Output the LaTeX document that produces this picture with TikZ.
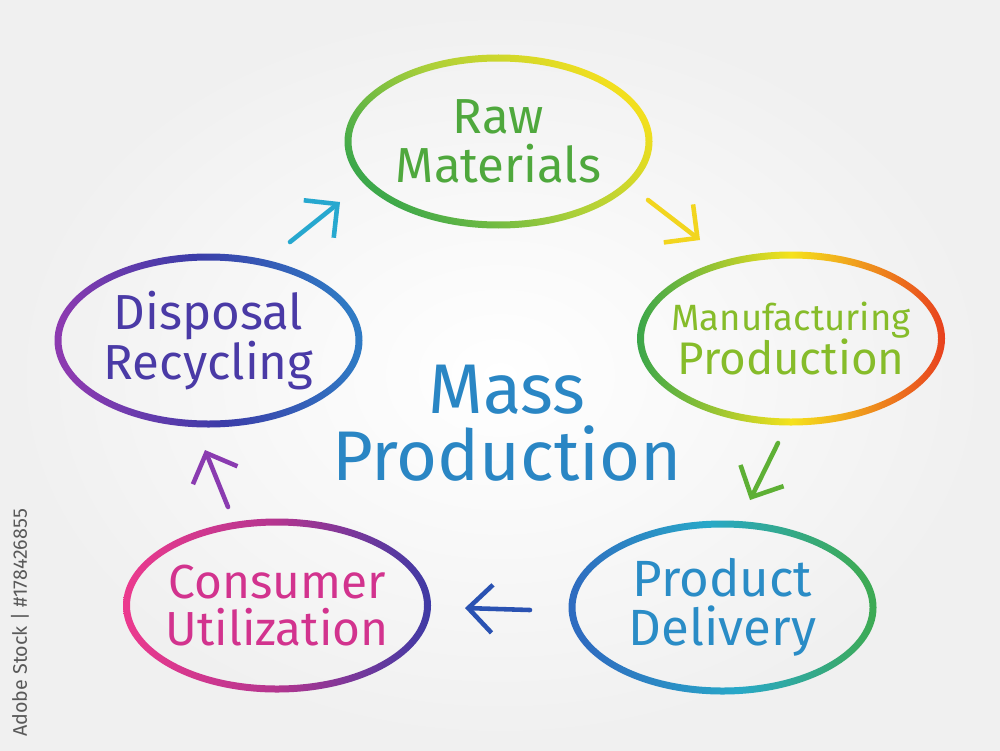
\documentclass[tikz,border=0pt]{standalone}
\usepackage{fontspec}
\setmainfont{Fira Sans}
\usetikzlibrary{shapes.geometric,arrows.meta}
% ring colours
\definecolor{rawL}{HTML}{3DA84A}\definecolor{rawM}{HTML}{A9CF3A}\definecolor{rawR}{HTML}{F2DF1E}
\definecolor{manL}{HTML}{3AA64A}\definecolor{manM}{HTML}{F5E21C}\definecolor{manR}{HTML}{E8401E}
\definecolor{delL}{HTML}{2E6CC0}\definecolor{delM}{HTML}{28A8C8}\definecolor{delR}{HTML}{3DAA55}
\definecolor{conL}{HTML}{EC3A8E}\definecolor{conM}{HTML}{B3358F}\definecolor{conR}{HTML}{3E3AA5}
\definecolor{disL}{HTML}{8C3AB0}\definecolor{disM}{HTML}{3B3CA8}\definecolor{disR}{HTML}{2F7AC4}
% text colours
\definecolor{rawT}{HTML}{4FA83D}\definecolor{manT}{HTML}{86BC2A}\definecolor{delT}{HTML}{2A8CC6}
\definecolor{conT}{HTML}{D2338E}\definecolor{disT}{HTML}{4A3AA6}\definecolor{massT}{HTML}{2A86C4}
% arrow colours
\definecolor{arA}{HTML}{27A8CF}\definecolor{arB}{HTML}{F2D51F}\definecolor{arC}{HTML}{5EB035}
\definecolor{arD}{HTML}{2A52B2}\definecolor{arE}{HTML}{8A3BB0}
\begin{document}
\begin{tikzpicture}[line cap=round, line join=round, >={Straight Barb[length=2.4mm,width=4.8mm]},
	box/.style={ellipse, minimum width=3.08cm, minimum height=1.74cm, align=center, inner sep=0pt},
	flow/.style={->, line width=1.3pt}]
	\def\rx{1.54} % half width of a ring
	\def\ry{0.87} % half height of a ring
	\def\w{0.07} % ring thickness
	\pgfmathsetmacro{\irx}{\rx-\w}
	\pgfmathsetmacro{\iry}{\ry-\w}
	\useasboundingbox (0,0) rectangle (10,7.5);
	\shade[inner color=white, outer color=black!6] (0,0) rectangle (10,7.5);
	% the five stages
	\node[box, text=rawT, font=\fontsize{14}{14}\selectfont] (raw) at (4.985,6.085) {Raw\\Materials};
	\node[box, text=manT, font=\fontsize{10.4}{12.5}\selectfont] (man) at (7.91,4.115) {Manufacturing\\{\fontsize{13}{12.5}\selectfont Production}};
	\node[box, text=delT, font=\fontsize{14.5}{14}\selectfont] (del) at (7.225,1.425) {Product\\Delivery};
	\node[box, text=conT, font=\fontsize{13.6}{13.6}\selectfont] (con) at (2.77,1.445) {Consumer\\Utilization};
	\node[box, text=disT, font=\fontsize{14}{14}\selectfont] (dis) at (2.085,4.095) {Disposal\\Recycling};
	\node[align=center, text=massT, font=\fontsize{20}{19}\selectfont] (mass) at (5.07,3.27) {Mass\\Production};
	\node[rotate=90, text=black!65, font=\fontsize{5.6}{7}\selectfont] (stock) at (0.2,1.27) {Adobe Stock | \#178426855};
	% coloured rings
	\foreach \n/\ca/\cm/\cb/\ang in {raw/rawL/rawM/rawR/135, man/manL/manM/manR/90, del/delL/delM/delR/100, con/conL/conM/conR/90, dis/disL/disM/disR/100}
		\path[left color=\ca, right color=\cb, middle color=\cm, shading angle=\ang, even odd rule]
			(\n.center) ellipse [x radius=\rx cm, y radius=\ry cm]
			(\n.center) ellipse [x radius=\irx cm, y radius=\iry cm];
	% arrow ends
	\coordinate (a1) at (2.90,5.08); \coordinate (b1) at (3.40,5.48);
	\coordinate (a2) at (6.48,5.50); \coordinate (b2) at (7.00,5.10);
	\coordinate (a3) at (7.78,3.07); \coordinate (b3) at (7.50,2.50);
	\coordinate (a4) at (5.30,1.40); \coordinate (b4) at (4.65,1.42);
	\coordinate (a5) at (2.28,2.43); \coordinate (b5) at (2.05,3.00);
	\draw[flow, arA] (a1)--(b1);
	\draw[flow, arB] (a2)--(b2);
	\draw[flow, arC] (a3)--(b3);
	\draw[flow, arD] (a4)--(b4);
	\draw[flow, arE] (a5)--(b5);
\end{tikzpicture}
\end{document}
